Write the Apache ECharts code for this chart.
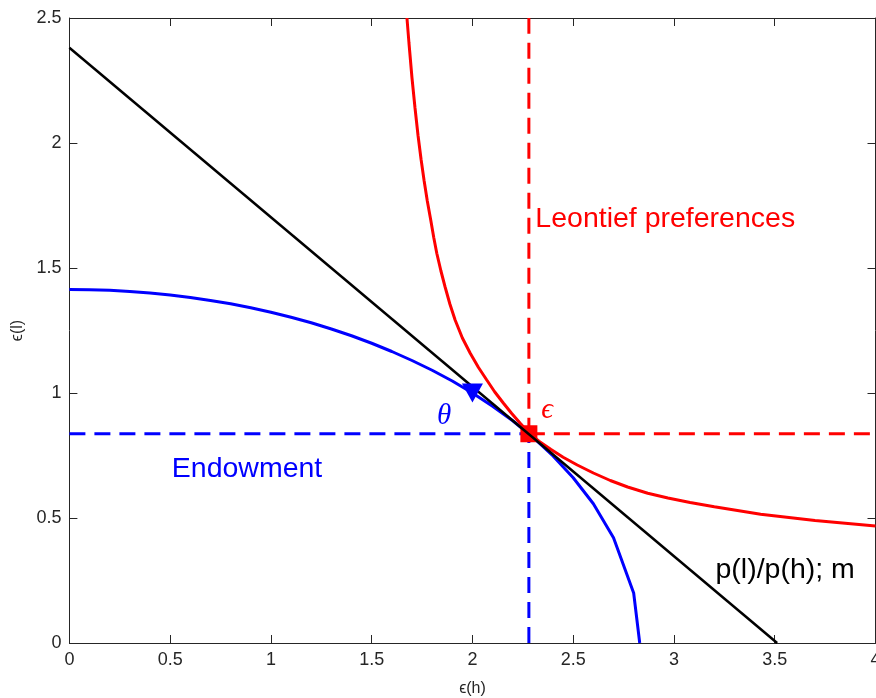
<!DOCTYPE html>
<html>
<head>
<meta charset="utf-8">
<script src="https://cdn.jsdelivr.net/npm/echarts@6/dist/echarts.min.js"></script>
<style>
html,body{margin:0;padding:0;background:#fff;}
#chart{width:876px;height:698px;}
</style>
</head>
<body>
<div id="chart"></div>
<script>
// ---- data ----
const xTicks = [0, 0.5, 1, 1.5, 2, 2.5, 3, 3.5, 4];
const yTicks = [0, 0.5, 1, 1.5, 2, 2.5];

// Endowment frontier (blue)
const endowX = [0,0.1,0.2,0.3,0.4,0.5,0.6,0.7,0.8,0.9,1.0,1.1,1.2,1.3,1.4,1.5,1.6,1.7,1.8,1.9,2.0,2.1,2.2,2.3,2.4,2.5,2.6,2.7,2.8,2.83];
const endowY = [1.414,1.413,1.411,1.406,1.400,1.392,1.382,1.370,1.357,1.341,1.323,1.303,1.281,1.256,1.229,1.199,1.166,1.130,1.091,1.048,1.000,0.947,0.889,0.823,0.748,0.661,0.557,0.421,0.200,0];

// Leontief indifference curve (red)
const prefX = [1.675,1.685,1.70,1.715,1.73,1.745,1.76,1.776,1.793,1.808,1.823,1.843,1.864,1.888,1.914,1.95,1.989,2.03,2.071,2.11,2.154,2.195,2.237,2.28,2.33,2.39,2.45,2.52,2.60,2.684,2.77,2.87,2.97,3.08,3.2,3.43,3.7,4.0];
const prefY = [2.50,2.40,2.26,2.14,2.03,1.935,1.85,1.768,1.692,1.622,1.559,1.490,1.425,1.356,1.292,1.220,1.159,1.102,1.052,1.005,0.959,0.918,0.879,0.840,0.807,0.774,0.743,0.712,0.680,0.650,0.624,0.599,0.580,0.562,0.545,0.515,0.490,0.468];

// Price line (black)
const priceX = [0, 3.512];
const priceY = [2.381, 0];

// Equilibrium point and theta marker
const eqPoint = [2.28, 0.837];
const thetaPoint = [2.0, 1.0];

// Text annotations
const noteText = ['Leontief preferences', 'Endowment', 'p(l)/p(h); m'];
const noteX = [2.312, 0.508, 3.206];
const noteY = [1.696, 0.697, 0.292];
const noteColor = ['#ff0000', '#0000ff', '#000000'];

const symText = ['θ', 'ϵ'];
const symX = [1.86, 2.371];
const symY = [0.908, 0.932];
const symColor = ['#0000ff', '#ff0000'];

const xName = 'ϵ(h)';
const yName = 'ϵ(l)';

// ---- build chart ----
const zip = (a, b) => a.map((v, i) => [v, b[i]]);
const axisColor = '#262626';
const sans = '"Liberation Sans", Arial, Helvetica, sans-serif';

function baseX(pos, showLabel) {
  return {
    type: 'value', min: 0, max: 4, interval: 0.5, position: pos,
    axisLine: { show: true, onZero: false, lineStyle: { color: axisColor, width: 1 } },
    axisTick: { show: true, inside: true, length: 8, lineStyle: { color: axisColor } },
    axisLabel: { show: showLabel, fontSize: 18, color: axisColor, margin: 8, fontFamily: sans,
      customValues: xTicks },
    splitLine: { show: false }
  };
}
function baseY(pos, showLabel) {
  return {
    type: 'value', min: 0, max: 2.5, interval: 0.5, position: pos,
    axisLine: { show: true, onZero: false, lineStyle: { color: axisColor, width: 1 } },
    axisTick: { show: true, inside: true, length: 8, lineStyle: { color: axisColor } },
    axisLabel: { show: showLabel, fontSize: 18, color: axisColor, margin: 8, fontFamily: sans,
      customValues: yTicks },
    splitLine: { show: false }
  };
}

const xa0 = baseX('bottom', true);
xa0.name = xName; xa0.nameLocation = 'middle'; xa0.nameGap = 38;
xa0.nameTextStyle = { fontSize: 16, color: axisColor, fontFamily: sans };
const xa1 = baseX('top', false);
const ya0 = baseY('left', true);
ya0.name = yName; ya0.nameLocation = 'middle'; ya0.nameGap = 44;
ya0.nameTextStyle = { fontSize: 16, color: axisColor, fontFamily: sans };
const ya1 = baseY('right', false);

const dash = [16, 9];
const labelBase = { show: true, position: 'inside', verticalAlign: 'middle',
  textBorderWidth: 0, textBorderColor: 'transparent', textShadowBlur: 0, opacity: 1 };

const option = {
  backgroundColor: '#ffffff',
  animation: false,
  grid: { left: 69.4, right: 0.5, top: 18, bottom: 55, containLabel: false, outerBoundsMode: 'none' },
  xAxis: [xa0, xa1],
  yAxis: [ya0, ya1],
  series: [
    { type: 'line', data: zip(endowX, endowY), showSymbol: false, symbol: 'none', z: 2,
      lineStyle: { color: '#0000ff', width: 3 } },
    { type: 'line', data: zip(prefX, prefY), showSymbol: false, symbol: 'none', z: 3,
      lineStyle: { color: '#ff0000', width: 3 } },
    // dashed guide lines
    { type: 'line', data: [[0, eqPoint[1]], eqPoint], showSymbol: false, symbol: 'none', z: 3,
      lineStyle: { color: '#0000ff', width: 3, type: dash } },
    { type: 'line', data: [[eqPoint[0], 0], eqPoint], showSymbol: false, symbol: 'none', z: 3,
      lineStyle: { color: '#0000ff', width: 3, type: dash } },
    { type: 'line', data: [eqPoint, [4, eqPoint[1]]], showSymbol: false, symbol: 'none', z: 3,
      lineStyle: { color: '#ff0000', width: 3, type: dash } },
    { type: 'line', data: [eqPoint, [eqPoint[0], 2.5]], showSymbol: false, symbol: 'none', z: 3,
      lineStyle: { color: '#ff0000', width: 3, type: dash } },
    { type: 'scatter', data: [eqPoint], symbol: 'rect', symbolSize: 17, z: 10,
      itemStyle: { color: '#ff0000', opacity: 1 } },
    { type: 'line', data: zip(priceX, priceY), showSymbol: false, symbol: 'none', z: 11,
      lineStyle: { color: '#000000', width: 2.5 } },
    { type: 'scatter', data: [thetaPoint], symbol: 'triangle', symbolRotate: 180, symbolSize: [21, 19], z: 12,
      itemStyle: { color: '#0000ff', opacity: 1 } },
    // text annotations
    { type: 'scatter', symbolSize: 1, z: 13, silent: true,
      itemStyle: { color: '#ffffff', opacity: 0 },
      data: noteText.map((t, i) => ({
        value: [noteX[i], noteY[i]], name: t,
        label: Object.assign({}, labelBase, { align: 'left',
          formatter: t, fontSize: 28.5, color: noteColor[i], fontFamily: sans })
      })) },
    { type: 'scatter', symbolSize: 1, z: 13, silent: true,
      itemStyle: { color: '#ffffff', opacity: 0 },
      data: symText.map((t, i) => ({
        value: [symX[i], symY[i]], name: t,
        label: Object.assign({}, labelBase, { align: 'center',
          formatter: t, fontSize: 29, fontStyle: 'italic', color: symColor[i],
          fontFamily: '"Liberation Serif", "DejaVu Serif", serif' })
      })) }
  ]
};

const chart = echarts.init(document.getElementById('chart'), null, { renderer: 'canvas' });
chart.setOption(option);
</script>
</body>
</html>
